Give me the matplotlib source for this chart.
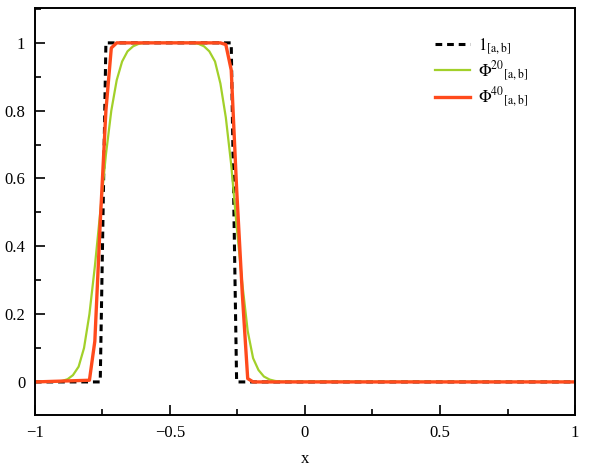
import matplotlib.pyplot as plt
from matplotlib.ticker import MultipleLocator

plt.rcParams["font.family"] = ["Liberation Serif", "DejaVu Serif"]
plt.rcParams["mathtext.fontset"] = "stix"

# indicator of [a,b], sampled on the plotting grid
ind_x = [-1.0, -0.758, -0.737, -0.273, -0.253, 1.0]
ind_y = [0.0, 0.0, 1.0, 1.0, 0.0, 0.0]

# Phi^20 (green)
phi20_x = [-1.0, -0.919, -0.899, -0.879, -0.859, -0.838, -0.818, -0.798,
           -0.778, -0.758, -0.737, -0.717, -0.697, -0.677, -0.657, -0.636,
           -0.616, -0.596, -0.414, -0.394, -0.374, -0.354, -0.333, -0.313,
           -0.293, -0.273, -0.253, -0.232, -0.212, -0.192, -0.172, -0.152,
           -0.131, -0.111, -0.091, 1.0]
phi20_y = [0.0, 0.001, 0.003, 0.008, 0.02, 0.045, 0.10, 0.20,
           0.34, 0.50, 0.67, 0.80, 0.89, 0.945, 0.975, 0.99,
           0.997, 1.0, 1.0, 0.997, 0.99, 0.975, 0.945, 0.88,
           0.78, 0.64, 0.46, 0.29, 0.15, 0.07, 0.035, 0.016,
           0.007, 0.003, 0.001, 0.0]

# Phi^40 (orange-red)
phi40_x = [-1.0, -0.798, -0.778, -0.758, -0.737, -0.717, -0.697,
           -0.313, -0.293, -0.273, -0.253, -0.232, -0.212, -0.192, 1.0]
phi40_y = [0.0, 0.005, 0.12, 0.47, 0.80, 0.985, 1.0,
           1.0, 0.995, 0.92, 0.57, 0.26, 0.01, 0.0, 0.0]

fig = plt.figure(figsize=(5.91, 4.67), dpi=100)
ax = fig.add_axes([0.059, 0.111, 0.914, 0.872])

ax.plot(ind_x, ind_y, color="black", lw=2.2, ls=(0, (2.2, 1.6)),
        label=r"$1_{\mathrm{[a,b]}}$")
ax.plot(phi20_x, phi20_y, color="#a2d02a", lw=1.6,
        label=r"$\Phi^{20}{}_{\mathrm{[a,b]}}$")
ax.plot(phi40_x, phi40_y, color="#ff4a1c", lw=2.4,
        label=r"$\Phi^{40}{}_{\mathrm{[a,b]}}$")

ax.set_xlim(-1, 1)
ax.set_ylim(-0.098, 1.103)
ax.set_xticks([-1, -0.5, 0, 0.5, 1])
ax.set_xticklabels(["\u22121", "\u22120.5", "0", "0.5", "1"])
ax.set_yticks([0, 0.2, 0.4, 0.6, 0.8, 1])
ax.set_yticklabels(["0", "0.2", "0.4", "0.6", "0.8", "1"])
ax.xaxis.set_minor_locator(MultipleLocator(0.25))
ax.yaxis.set_minor_locator(MultipleLocator(0.1))
ax.tick_params(which="both", direction="in", top=False, right=False,
               labelsize=12, width=1.2, pad=7)
ax.tick_params(which="major", length=7)
ax.tick_params(which="minor", length=4)
for s in ax.spines.values():
    s.set_linewidth(1.4)

ax.set_xlabel("x", fontsize=12, labelpad=7)

ax.legend(loc="upper left", bbox_to_anchor=(0.741, 0.93), frameon=False,
          fontsize=12, handlelength=2.1, handletextpad=0.5,
          labelspacing=0.15, borderpad=0, borderaxespad=0)

fig.savefig("out.png", dpi=100)
